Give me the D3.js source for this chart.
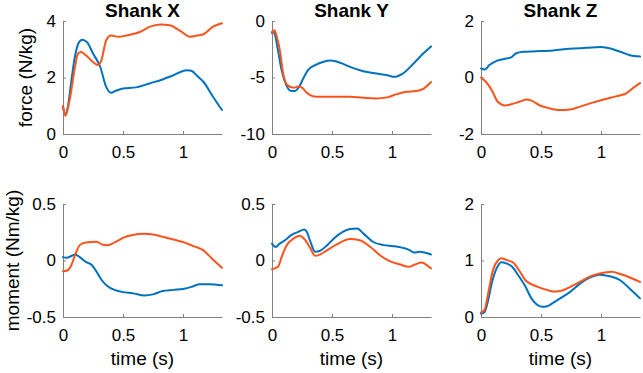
<!DOCTYPE html>
<html>
<head>
<meta charset="utf-8">
<script src="https://cdn.jsdelivr.net/npm/d3@7"></script>
<style>
  body { margin: 0; background: #fff; }
  svg { display: block; }
  text { font-family: "Liberation Sans", Arial, sans-serif; fill: #000; }
</style>
</head>
<body>
<svg id="chart" width="643" height="373"></svg>
<script>
// ---------- data (time [s], value) ----------
const titles = ["Shank X", "Shank Y", "Shank Z"];
const rowLabels = ["force (N/kg)", "moment (Nm/kg)"];
const xLabel = "time (s)";
const xTicks = [0, 0.5, 1];
const xMax = 1.325;

const forceYDomains = [[0, 4], [-10, 0], [-2, 2]];
const forceYTicks = [[0, 2, 4], [-10, -5, 0], [-2, 0, 2]];
const momentYDomains = [[-0.5, 0.5], [-0.5, 0.5], [0, 2]];
const momentYTicks = [[-0.5, 0, 0.5], [-0.5, 0, 0.5], [0, 1, 2]];

const forceX_blue = [[0,0.96],[0.02,0.67],[0.04,0.95],[0.07,1.9],[0.1,2.75],[0.13,3.22],[0.16,3.34],[0.2,3.25],[0.25,2.85],[0.31,2.38],[0.36,1.67],[0.4,1.46],[0.44,1.53],[0.5,1.61],[0.61,1.65],[0.72,1.79],[0.83,1.93],[0.92,2.08],[1.03,2.26],[1.07,2.24],[1.12,2.05],[1.17,1.85],[1.25,1.32],[1.325,0.85]];
const forceX_orange = [[0,0.99],[0.02,0.64],[0.055,1.2],[0.1,2.38],[0.125,2.85],[0.15,2.9],[0.19,2.79],[0.25,2.55],[0.29,2.44],[0.32,2.61],[0.36,3.32],[0.4,3.49],[0.46,3.44],[0.53,3.49],[0.64,3.61],[0.72,3.79],[0.81,3.88],[0.89,3.85],[0.97,3.67],[1.06,3.44],[1.1,3.47],[1.17,3.53],[1.25,3.8],[1.325,3.92]];

const forceY_blue = [[0,-0.97],[0.02,-1.1],[0.05,-2.6],[0.08,-4.35],[0.12,-5.7],[0.16,-6.2],[0.19,-6.2],[0.23,-5.76],[0.26,-5.1],[0.3,-4.35],[0.36,-3.9],[0.43,-3.6],[0.49,-3.5],[0.57,-3.7],[0.65,-4.06],[0.76,-4.44],[0.87,-4.65],[0.96,-4.8],[1.02,-4.94],[1.09,-4.65],[1.18,-3.76],[1.26,-2.88],[1.325,-2.25]];
const forceY_orange = [[0,-1.1],[0.02,-0.82],[0.04,-1.4],[0.07,-2.9],[0.09,-4.5],[0.13,-5.7],[0.18,-5.9],[0.22,-5.8],[0.25,-5.9],[0.29,-6.35],[0.34,-6.65],[0.4,-6.7],[0.51,-6.7],[0.65,-6.7],[0.76,-6.8],[0.87,-6.85],[0.96,-6.76],[1.04,-6.47],[1.12,-6.26],[1.2,-6.2],[1.26,-6.0],[1.325,-5.4]];

const forceZ_blue = [[0,0.32],[0.03,0.28],[0.07,0.44],[0.13,0.59],[0.21,0.67],[0.25,0.71],[0.29,0.85],[0.35,0.91],[0.46,0.93],[0.6,0.96],[0.74,1.02],[0.88,1.05],[1.0,1.08],[1.04,1.06],[1.16,0.91],[1.24,0.79],[1.325,0.74]];
const forceZ_orange = [[0,0],[0.04,-0.15],[0.09,-0.45],[0.14,-0.86],[0.2,-0.99],[0.25,-0.95],[0.32,-0.86],[0.38,-0.78],[0.42,-0.82],[0.49,-0.99],[0.57,-1.09],[0.66,-1.15],[0.74,-1.13],[0.82,-1.04],[0.93,-0.89],[1.04,-0.76],[1.13,-0.66],[1.21,-0.56],[1.28,-0.33],[1.325,-0.2]];

const momentX_blue = [[0,0.03],[0.03,0.024],[0.07,0.04],[0.1,0.053],[0.14,0.03],[0.19,-0.012],[0.24,-0.04],[0.28,-0.1],[0.32,-0.17],[0.375,-0.23],[0.43,-0.26],[0.5,-0.28],[0.58,-0.29],[0.68,-0.31],[0.75,-0.3],[0.83,-0.27],[0.92,-0.26],[1.01,-0.25],[1.08,-0.23],[1.14,-0.21],[1.22,-0.21],[1.325,-0.22]];
const momentX_orange = [[0,-0.095],[0.04,-0.086],[0.07,-0.04],[0.1,0.047],[0.14,0.136],[0.19,0.16],[0.28,0.166],[0.33,0.14],[0.375,0.136],[0.43,0.16],[0.5,0.2],[0.58,0.225],[0.67,0.237],[0.75,0.23],[0.83,0.21],[0.92,0.186],[1.01,0.16],[1.08,0.13],[1.17,0.09],[1.24,0.018],[1.325,-0.065]];

const momentY_blue = [[0,0.15],[0.03,0.12],[0.065,0.15],[0.11,0.18],[0.16,0.225],[0.22,0.254],[0.27,0.275],[0.29,0.254],[0.32,0.166],[0.36,0.077],[0.4,0.086],[0.46,0.136],[0.52,0.2],[0.59,0.254],[0.65,0.278],[0.71,0.284],[0.76,0.24],[0.84,0.166],[0.93,0.136],[1.01,0.127],[1.09,0.112],[1.15,0.09],[1.18,0.07],[1.23,0.077],[1.325,0.053]];
const momentY_orange = [[0,-0.077],[0.05,-0.056],[0.08,0.03],[0.12,0.13],[0.18,0.195],[0.23,0.22],[0.27,0.19],[0.32,0.107],[0.36,0.041],[0.4,0.053],[0.46,0.092],[0.54,0.142],[0.65,0.19],[0.73,0.18],[0.82,0.12],[0.9,0.047],[0.98,-0.006],[1.07,-0.036],[1.14,-0.056],[1.19,-0.036],[1.25,-0.018],[1.29,-0.041],[1.325,-0.07]];

const momentZ_blue = [[0,0.06],[0.03,0.09],[0.06,0.3],[0.09,0.6],[0.13,0.86],[0.17,0.97],[0.21,0.95],[0.26,0.89],[0.31,0.74],[0.37,0.54],[0.42,0.33],[0.46,0.23],[0.51,0.18],[0.55,0.19],[0.6,0.25],[0.66,0.33],[0.74,0.44],[0.825,0.59],[0.91,0.7],[0.99,0.75],[1.075,0.72],[1.16,0.65],[1.24,0.5],[1.325,0.33]];
const momentZ_orange = [[0,0.08],[0.03,0.13],[0.06,0.42],[0.1,0.83],[0.145,1.01],[0.17,1.04],[0.21,1.01],[0.27,0.96],[0.325,0.8],[0.37,0.65],[0.42,0.58],[0.49,0.52],[0.55,0.48],[0.6,0.45],[0.66,0.46],[0.74,0.53],[0.825,0.62],[0.91,0.72],[0.99,0.77],[1.09,0.8],[1.16,0.76],[1.24,0.7],[1.325,0.62]];

// ---------- layout ----------
const colors = { blue: "#0072BD", orange: "#FA541C" };
const colLeft = [63, 272, 481];
const plotW = 159;
const rowTop = [21, 204];
const plotH = 113;
const axisColor = "#808080";
const yLabelBaseline = [32, 19];

const panels = [
  { row: 0, col: 0, dom: forceYDomains[0], ticks: forceYTicks[0], series: [forceX_blue, forceX_orange] },
  { row: 0, col: 1, dom: forceYDomains[1], ticks: forceYTicks[1], series: [forceY_blue, forceY_orange] },
  { row: 0, col: 2, dom: forceYDomains[2], ticks: forceYTicks[2], series: [forceZ_blue, forceZ_orange] },
  { row: 1, col: 0, dom: momentYDomains[0], ticks: momentYTicks[0], series: [momentX_blue, momentX_orange] },
  { row: 1, col: 1, dom: momentYDomains[1], ticks: momentYTicks[1], series: [momentY_blue, momentY_orange] },
  { row: 1, col: 2, dom: momentYDomains[2], ticks: momentYTicks[2], series: [momentZ_blue, momentZ_orange] }
];

const svg = d3.select("#chart");
const fmt = d => (d === 0 ? "0" : String(d));

panels.forEach(p => {
  const g = svg.append("g").attr("transform", `translate(${colLeft[p.col]},${rowTop[p.row]})`);
  const x = d3.scaleLinear().domain([0, xMax]).range([0, plotW]);
  const y = d3.scaleLinear().domain(p.dom).range([plotH, 0]);

  const xa = g.append("g").attr("transform", `translate(0,${plotH})`)
    .call(d3.axisBottom(x).tickValues(xTicks).tickFormat(fmt).tickSize(-3).tickSizeOuter(0).tickPadding(12));
  const ya = g.append("g")
    .call(d3.axisLeft(y).tickValues(p.ticks).tickFormat(fmt).tickSize(-3).tickSizeOuter(0).tickPadding(7));
  [xa, ya].forEach(a => {
    a.select(".domain").attr("stroke", axisColor).attr("stroke-width", 1);
    a.selectAll(".tick line").attr("stroke", axisColor);
    a.selectAll(".tick text").attr("font-size", 17).attr("fill", "#000")
      .attr("font-family", '"Liberation Sans", Arial, sans-serif');
  });

  const line = d3.line().x(d => x(d[0])).y(d => y(d[1])).curve(d3.curveMonotoneX);
  const cols = [colors.blue, colors.orange];
  p.series.forEach((s, i) => {
    g.append("path").datum(s).attr("d", line)
      .attr("fill", "none").attr("stroke", cols[i]).attr("stroke-width", 2)
      .attr("stroke-linejoin", "round").attr("stroke-linecap", "round");
  });

  if (p.row === 0) {
    g.append("text").attr("x", plotW / 2).attr("y", -4).attr("text-anchor", "middle")
      .attr("font-size", 19).attr("font-weight", "bold").text(titles[p.col]);
  } else {
    g.append("text").attr("x", plotW / 2).attr("y", 365 - rowTop[1]).attr("text-anchor", "middle")
      .attr("font-size", 19).text(xLabel);
  }
  if (p.col === 0) {
    g.append("text").attr("transform", `translate(${yLabelBaseline[p.row] - colLeft[0]},${plotH / 2}) rotate(-90)`)
      .attr("text-anchor", "middle").attr("font-size", 19).text(rowLabels[p.row]);
  }
});
</script>
</body>
</html>
